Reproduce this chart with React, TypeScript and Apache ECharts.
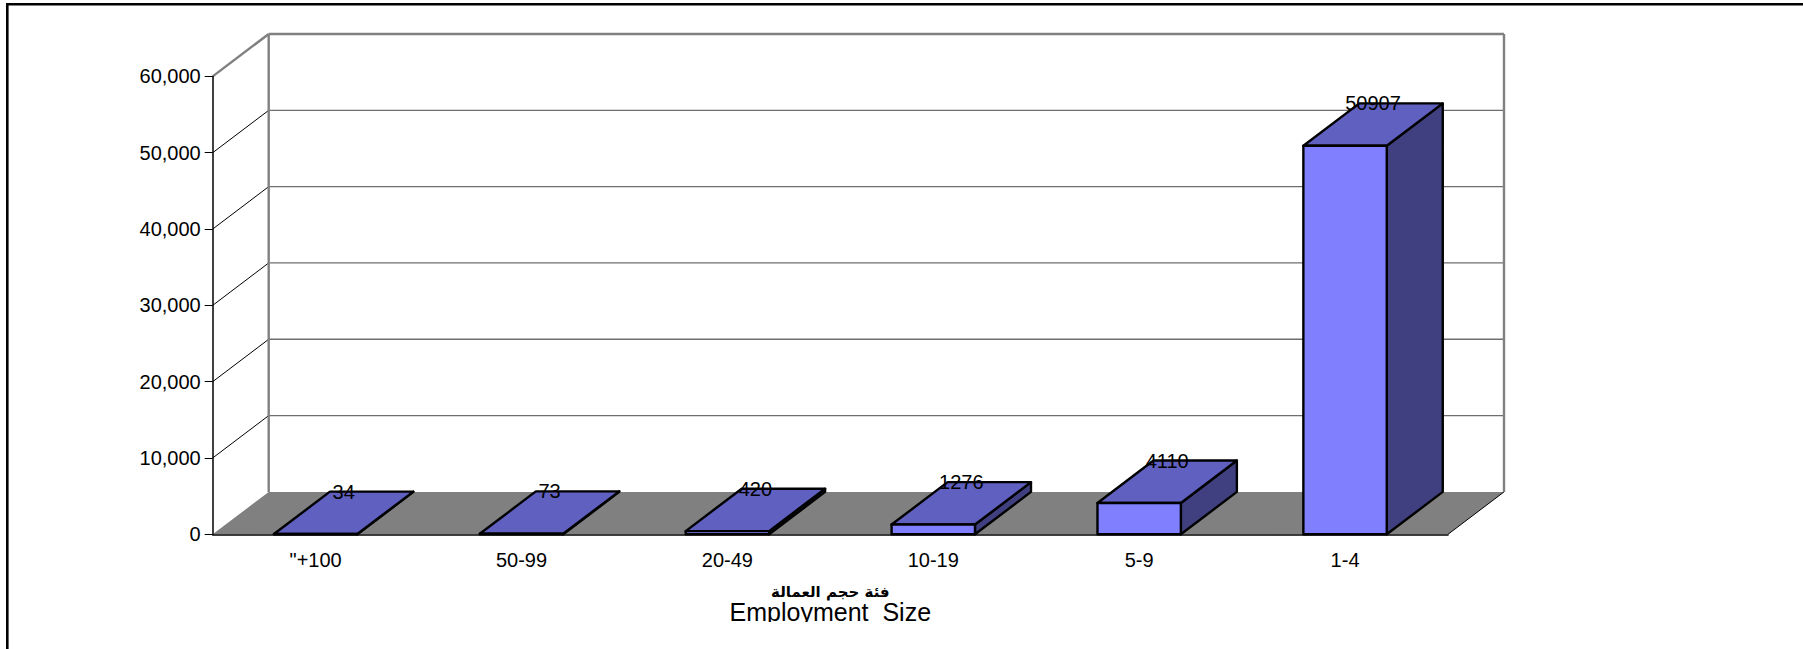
import React, { useEffect, useRef } from "react";
import * as echarts from "echarts";

const categories = ['"+100', "50-99", "20-49", "10-19", "5-9", "1-4"];
const employment = [34, 73, 420, 1276, 4110, 50907];
const yTicks = [0, 10000, 20000, 30000, 40000, 50000, 60000];
const titleArabic = "فئة حجم العمالة";
const titleEnglish = "Employment  Size";

const W = 1803;
const H = 649;
const GRID = { left: 212.7, top: 76.4, width: 1235.3, height: 457.9 };
const DEPTH_X = 56;
const DEPTH_Y = 42.4;
const BAR_RATIO = 0.405;
const FONT = "'Liberation Sans', Arial, sans-serif";

const wallItem = (params: any, api: any) => {
  const cs = params.coordSys;
  const v = api.value(1);
  const y = api.coord([0, v])[1];
  const x0 = cs.x;
  const x1 = cs.x + cs.width;
  const bx0 = x0 + DEPTH_X;
  const bx1 = x1 + DEPTH_X;
  const by = y - DEPTH_Y;
  const children: any[] = [];
  if (v === 0) {
    children.push({
      type: "polygon",
      shape: { points: [[x0, y], [x1, y], [bx1, by], [bx0, by]] },
      style: { fill: "#808080", stroke: "none" },
    });
    children.push({
      type: "line",
      shape: { x1, y1: y, x2: bx1, y2: by },
      style: { stroke: "#000", lineWidth: 1 },
    });
  } else {
    const top = v === yTicks[yTicks.length - 1];
    children.push({
      type: "line",
      shape: { x1: x0, y1: y, x2: bx0, y2: by },
      style: { stroke: top ? "#808080" : "#000", lineWidth: top ? 2.4 : 1 },
    });
    children.push({
      type: "line",
      shape: { x1: bx0, y1: by, x2: bx1, y2: by },
      style: { stroke: top ? "#808080" : "#6e6e6e", lineWidth: top ? 2.4 : 1.3 },
    });
    if (top) {
      const floorY = api.coord([0, 0])[1] - DEPTH_Y;
      children.push({
        type: "line",
        shape: { x1: bx0, y1: by, x2: bx0, y2: floorY },
        style: { stroke: "#808080", lineWidth: 2.4 },
      });
      children.push({
        type: "line",
        shape: { x1: bx1, y1: by, x2: bx1, y2: floorY },
        style: { stroke: "#808080", lineWidth: 2.4 },
      });
    }
  }
  return { type: "group", children };
};

const barItem = (_params: any, api: any) => {
  const idx = api.value(0);
  const v = api.value(1);
  const [cx, yTop] = api.coord([idx, v]);
  const y0 = api.coord([idx, 0])[1];
  const bw = api.size([1, 0])[0] * BAR_RATIO;
  const l = cx - bw / 2;
  const r = cx + bw / 2;
  const edge = { stroke: "#000", lineWidth: 2.4, lineJoin: "round" };
  return {
    type: "group",
    children: [
      {
        type: "polygon",
        shape: { points: [[r, yTop], [r + DEPTH_X, yTop - DEPTH_Y], [r + DEPTH_X, y0 - DEPTH_Y], [r, y0]] },
        style: { fill: "#404080", ...edge },
      },
      {
        type: "polygon",
        shape: { points: [[l, yTop], [r, yTop], [r + DEPTH_X, yTop - DEPTH_Y], [l + DEPTH_X, yTop - DEPTH_Y]] },
        style: { fill: "#6060C0", ...edge },
      },
      {
        type: "rect",
        shape: { x: l, y: yTop, width: bw, height: y0 - yTop },
        style: { fill: "#8080FF", ...edge },
      },
      {
        type: "text",
        style: {
          x: cx + DEPTH_X / 2,
          y: yTop - DEPTH_Y,
          text: String(v),
          fill: "#000",
          font: `20px ${FONT}`,
          align: "center",
          verticalAlign: "middle",
        },
      },
    ],
  };
};

export default function App() {
  const ref = useRef<HTMLDivElement>(null);
  useEffect(() => {
    const chart = echarts.init(ref.current!, undefined, { renderer: "svg" });
    chart.setOption({
      animation: false,
      backgroundColor: "#fff",
      grid: { ...GRID, containLabel: false },
      xAxis: {
        type: "category",
        data: categories,
        z: 3,
        axisLine: { lineStyle: { color: "#000", width: 1.5 } },
        axisTick: { length: 8, alignWithLabel: false, lineStyle: { color: "#000", width: 1 } },
        axisLabel: { color: "#000", fontSize: 20, fontFamily: FONT, margin: 16, interval: 0 },
        splitLine: { show: false },
      },
      yAxis: {
        type: "value",
        min: 0,
        max: 60000,
        interval: 10000,
        z: 3,
        axisLine: { show: true, lineStyle: { color: "#000", width: 1.5 } },
        axisTick: { show: true, length: 8, lineStyle: { color: "#000", width: 1 } },
        axisLabel: { color: "#000", fontSize: 20, fontFamily: FONT, margin: 12 },
        splitLine: { show: false },
      },
      series: [
        {
          type: "custom",
          z: 1,
          silent: true,
          renderItem: wallItem,
          encode: { x: 0, y: 1 },
          data: yTicks.map((t) => [0, t]),
        },
        {
          type: "custom",
          z: 4,
          silent: true,
          renderItem: barItem,
          encode: { x: 0, y: 1 },
          data: employment.map((v, i) => [i, v]),
        },
      ],
      graphic: [
        { type: "rect", z: 10, shape: { x: 6, y: 3, width: W - 6, height: 2.6 }, style: { fill: "#000" } },
        { type: "rect", z: 10, shape: { x: 6, y: 3, width: 2.6, height: H - 3 }, style: { fill: "#000" } },
        {
          type: "text",
          z: 10,
          style: {
            x: GRID.left + GRID.width / 2,
            y: 592,
            text: titleArabic,
            fill: "#000",
            font: `bold 15px 'DejaVu Sans', ${FONT}`,
            align: "center",
            verticalAlign: "middle",
          },
        },
        {
          type: "text",
          z: 10,
          style: {
            x: GRID.left + GRID.width / 2,
            y: 612,
            text: titleEnglish,
            fill: "#000",
            font: `25px ${FONT}`,
            align: "center",
            verticalAlign: "middle",
          },
        },
        { type: "rect", z: 11, shape: { x: 600, y: 622, width: 500, height: 27 }, style: { fill: "#fff" } },
      ],
    });
    return () => chart.dispose();
  }, []);
  return (
    <div
      ref={ref}
      style={{ position: "absolute", left: 0, top: 0, width: W, height: H, background: "#fff" }}
    />
  );
}
